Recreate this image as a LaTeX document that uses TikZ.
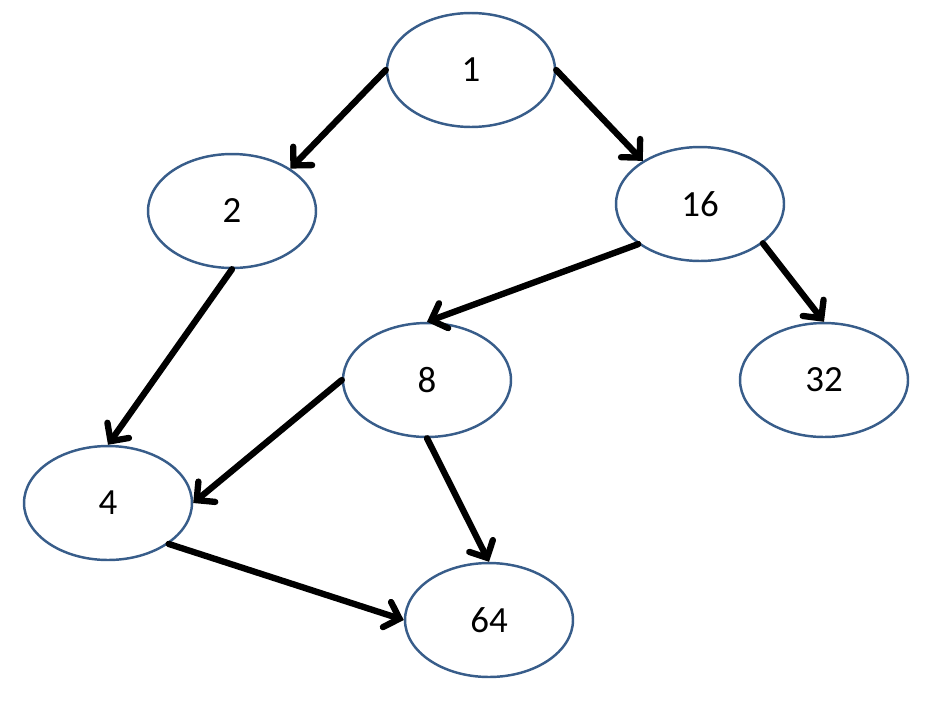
\documentclass[tikz,border=0pt]{standalone}
\usepackage{fontspec}
\setmainfont{Carlito}
\usepackage{tikz}
\usetikzlibrary{arrows.meta,shapes.geometric}
\definecolor{nodeblue}{HTML}{385D8A}

\begin{document}
\begin{tikzpicture}[
    x=0.02cm, y=-0.02cm,
    vbox/.style={ellipse, draw=nodeblue, line width=1.4pt, fill=white,
                minimum width=3.36cm, minimum height=2.28cm,
                inner sep=0pt, font=\fontsize{21}{25}\selectfont},
    arr/.style={-{Straight Barb[length=7.5pt,width=15pt,line cap=round]},
                line width=3.6pt, line cap=round}
]
\useasboundingbox (0,0) rectangle (928,700);

\node[vbox] (n1)  at (471,70)  {1};
\node[vbox] (n2)  at (232,211) {2};
\node[vbox] (n16) at (700,204) {16};
\node[vbox] (n8)  at (427,380) {8};
\node[vbox] (n32) at (824,380) {32};
\node[vbox] (n4)  at (108,503) {4};
\node[vbox] (n64) at (489,620) {64};

\draw[arr] (n1.west) -- (n2.36);
\draw[arr] (n1.east) -- (n16.143);
\draw[arr] (n16.213) -- (n8.north);
\draw[arr] (n16.-32) -- (n32.north);
\draw[arr] (n2.south) -- (n4.north);
\draw[arr] (n8.west) -- (n4.east);
\draw[arr] (n8.south) -- (n64.north);
\draw[arr] (n4.-34) -- (n64.west);
\end{tikzpicture}
\end{document}
